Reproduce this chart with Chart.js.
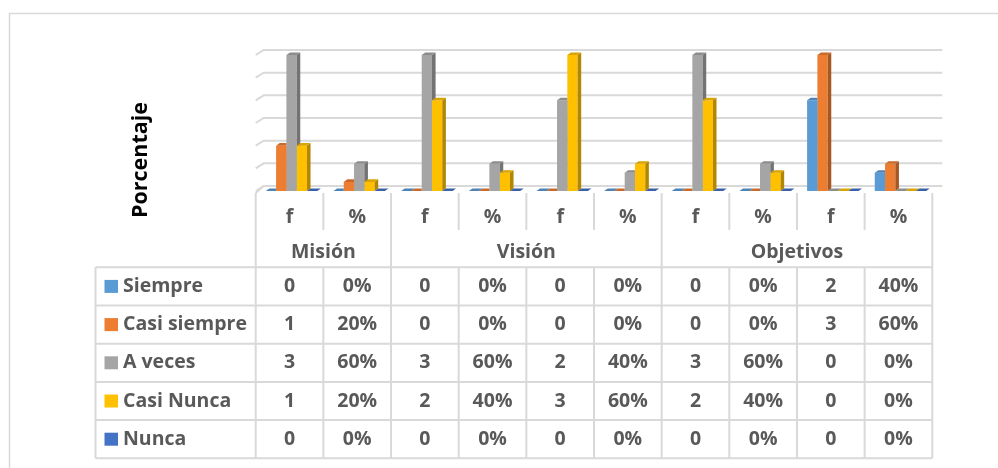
<!DOCTYPE html>
<html>
<head>
<meta charset="utf-8">
<script src="https://cdn.jsdelivr.net/npm/chart.js@4/dist/chart.umd.min.js"></script>
<style>
  html, body { margin: 0; padding: 0; background: #ffffff; }
  #chart { display: block; }
</style>
</head>
<body>
<canvas id="chart" width="998" height="468"></canvas>
<script>
// Column labels (second level of the category axis)
const categories = ['f', '%', 'f', '%', 'f', '%', 'f', '%', 'f', '%'];
// Top level of the category axis and how many columns each covers
const groupLabels = ['Misión', 'Visión', 'Objetivos'];
const groupSpans = [2, 4, 4];

// Series values: counts in "f" columns, fractions in "%" columns
const seriesNames = ['Siempre', 'Casi siempre', 'A veces', 'Casi Nunca', 'Nunca'];
const siempre     = [0, 0,   0, 0,   0, 0,   0, 0,   2, 0.4];
const casiSiempre = [1, 0.2, 0, 0,   0, 0,   0, 0,   3, 0.6];
const aVeces      = [3, 0.6, 3, 0.6, 2, 0.4, 3, 0.6, 0, 0];
const casiNunca   = [1, 0.2, 2, 0.4, 3, 0.6, 2, 0.4, 0, 0];
const nunca       = [0, 0,   0, 0,   0, 0,   0, 0,   0, 0];
const seriesData = [siempre, casiSiempre, aVeces, casiNunca, nunca];
const seriesColors = ['#5B9BD5', '#ED7D31', '#A5A5A5', '#FFC000', '#4472C4'];

// Value axis range and gridline step
const yMin = 0, yMax = 3, yStep = 0.5;

const TEXT = '#595959';
const LINE = '#d9d9d9';
const FONT = 'bold 19.5px "Open Sans", "Liberation Sans", sans-serif';
const DEPTH_X = 3.6, DEPTH_Y = 2.6;      // bar depth
const WALL_X = 8, WALL_Y = 5;            // back wall offset
const SHIFT = 2;                         // bars sit slightly right of the table columns

function shade(hex, f) {
  const n = parseInt(hex.slice(1), 16);
  const r = Math.round(((n >> 16) & 255) * f);
  const g = Math.round(((n >> 8) & 255) * f);
  const b = Math.round((n & 255) * f);
  return `rgb(${r},${g},${b})`;
}

function fmt(v, col) {
  return categories[col] === '%' ? Math.round(v * 100) + '%' : String(v);
}

// Geometry of the data table, derived from the chart area
function tableGeom(chart) {
  const a = chart.chartArea;
  const n = categories.length;
  const w = (a.right - a.left) / n;
  const x0 = a.left - SHIFT;
  const cols = [];
  for (let i = 0; i <= n; i++) cols.push(x0 + i * w);
  const top = a.bottom + 2;
  return { cols, w, top, labBottom: top + 37, rowTop: top + 74.3, rowH: 38.2,
           legendLeft: 95.5 };
}

const framePlugin = {
  id: 'frame',
  beforeDatasetsDraw(chart) {
    const ctx = chart.ctx;
    const y = chart.scales.y;
    const g = tableGeom(chart);
    ctx.save();
    // outer border of the chart object
    ctx.strokeStyle = LINE;
    ctx.lineWidth = 1.5;
    ctx.beginPath();
    ctx.moveTo(9.5, chart.height + 2);
    ctx.lineTo(9.5, 13.5);
    ctx.lineTo(chart.width + 2, 13.5);
    ctx.stroke();
    // back wall gridlines with the side-wall slant at the left
    ctx.lineWidth = 2;
    for (let v = yMin; v <= yMax + 1e-9; v += yStep) {
      const py = y.getPixelForValue(v);
      ctx.beginPath();
      ctx.moveTo(g.cols[0], py);
      ctx.lineTo(g.cols[0] + WALL_X, py - WALL_Y);
      ctx.lineTo(g.cols[g.cols.length - 1] + WALL_X + 2, py - WALL_Y);
      ctx.stroke();
    }
    ctx.restore();
  },
  // side and top faces of each column, painted left to right;
  // the next column's front face hides what lies behind it
  afterDatasetsDraw(chart) {
    const ctx = chart.ctx;
    const metas = seriesNames.map((_, i) => chart.getDatasetMeta(i));
    const nCat = categories.length;
    for (let c = 0; c < nCat; c++) {
      for (let s = 0; s < metas.length; s++) {
        const p = metas[s].data[c].getProps(['x', 'y', 'base', 'width'], true);
        const l = p.x - p.width / 2, r = p.x + p.width / 2;
        const col = seriesColors[s];
        ctx.save();
        if (s + 1 < metas.length) {
          const q = metas[s + 1].data[c].getProps(['x', 'y', 'base', 'width'], true);
          ctx.beginPath();
          ctx.rect(0, 0, chart.width, chart.height);
          ctx.rect(q.x - q.width / 2, q.y, q.width, q.base - q.y);
          ctx.clip('evenodd');
        }
        ctx.fillStyle = shade(col, 0.7);
        ctx.beginPath();
        ctx.moveTo(r, p.y);
        ctx.lineTo(r + DEPTH_X, p.y - DEPTH_Y);
        ctx.lineTo(r + DEPTH_X, p.base - DEPTH_Y);
        ctx.lineTo(r, p.base);
        ctx.closePath();
        ctx.fill();
        ctx.fillStyle = shade(col, 0.85);
        ctx.beginPath();
        ctx.moveTo(l, p.y);
        ctx.lineTo(l + DEPTH_X, p.y - DEPTH_Y);
        ctx.lineTo(r + DEPTH_X, p.y - DEPTH_Y);
        ctx.lineTo(r, p.y);
        ctx.closePath();
        ctx.fill();
        ctx.restore();
      }
    }
  },
  afterDraw(chart) {
    const ctx = chart.ctx;
    const g = tableGeom(chart);
    const n = categories.length;
    const right = g.cols[n];
    const rows = seriesNames.length;
    const bottom = g.rowTop + rows * g.rowH;
    ctx.save();
    ctx.strokeStyle = LINE;
    ctx.lineWidth = 2;

    const groupEdges = [0];
    groupSpans.forEach(s => groupEdges.push(groupEdges[groupEdges.length - 1] + s));

    // slant at the floor corner
    ctx.beginPath();
    ctx.moveTo(g.cols[0], g.top);
    ctx.lineTo(g.cols[0] + WALL_X, g.top - WALL_Y - 2);
    ctx.stroke();

    // vertical lines
    for (let i = 0; i <= n; i++) {
      const x = g.cols[i];
      ctx.beginPath();
      if (groupEdges.includes(i)) {
        ctx.moveTo(x, g.top);
        ctx.lineTo(x, bottom);
      } else {
        ctx.moveTo(x, g.top);
        ctx.lineTo(x, g.labBottom);
        ctx.moveTo(x, g.rowTop);
        ctx.lineTo(x, bottom);
      }
      ctx.stroke();
    }
    ctx.beginPath();
    ctx.moveTo(g.legendLeft, g.rowTop);
    ctx.lineTo(g.legendLeft, bottom);
    ctx.stroke();
    for (let r = 0; r <= rows; r++) {
      const yy = g.rowTop + r * g.rowH;
      ctx.beginPath();
      ctx.moveTo(g.legendLeft, yy);
      ctx.lineTo(right, yy);
      ctx.stroke();
    }

    // texts
    ctx.fillStyle = TEXT;
    ctx.font = FONT;
    ctx.textBaseline = 'middle';
    ctx.textAlign = 'center';
    categories.forEach((c, i) => {
      ctx.fillText(c, g.cols[i] + g.w / 2, g.top + 24);
    });
    groupLabels.forEach((lab, k) => {
      const x = (g.cols[groupEdges[k]] + g.cols[groupEdges[k + 1]]) / 2;
      ctx.fillText(lab, x, g.top + 59);
    });
    seriesData.forEach((vals, r) => {
      const cy = g.rowTop + r * g.rowH + g.rowH / 2;
      vals.forEach((v, i) => {
        ctx.fillText(fmt(v, i), g.cols[i] + g.w / 2, cy);
      });
      ctx.fillStyle = seriesColors[r];
      ctx.fillRect(104.5, cy - 6.5, 13.5, 13);
      ctx.fillStyle = TEXT;
      ctx.textAlign = 'left';
      ctx.fillText(seriesNames[r], 123, cy);
      ctx.textAlign = 'center';
    });

    // value axis title
    ctx.save();
    ctx.translate(141, 160);
    ctx.rotate(-Math.PI / 2);
    ctx.font = 'bold 21.5px "Open Sans", "Liberation Sans", sans-serif';
    ctx.fillStyle = '#000000';
    ctx.fillText('Porcentaje', 0, 0);
    ctx.restore();
    ctx.restore();
  }
};

const datasets = seriesNames.map((name, i) => ({
  label: name,
  data: seriesData[i],
  backgroundColor: seriesColors[i],
  borderWidth: 0,
  categoryPercentage: 0.76,
  barPercentage: 1.0
}));

new Chart(document.getElementById('chart'), {
  type: 'bar',
  data: { labels: categories, datasets },
  options: {
    responsive: false,
    animation: false,
    events: [],
    layout: { padding: { left: 257.7, right: 63.7, top: 55, bottom: 277 } },
    plugins: { legend: { display: false }, tooltip: { enabled: false } },
    scales: {
      x: { display: false },
      y: { display: false, min: yMin, max: yMax }
    }
  },
  plugins: [framePlugin]
});
</script>
</body>
</html>
